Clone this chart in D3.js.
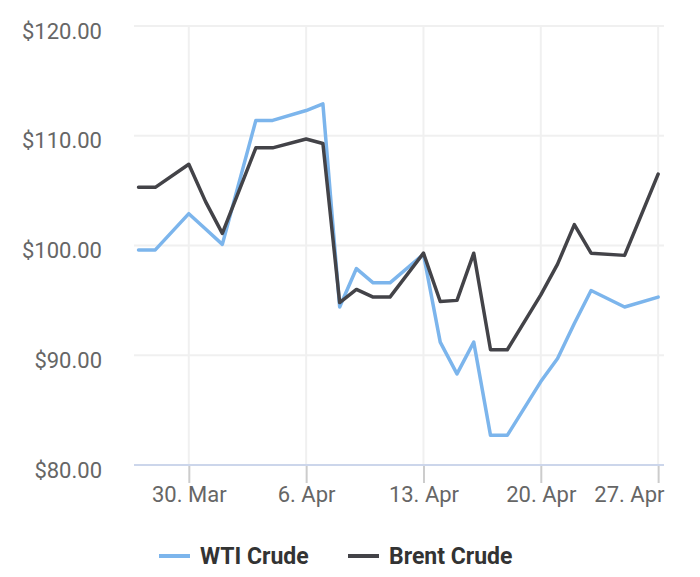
<!DOCTYPE html>
<html>
<head>
<meta charset="utf-8">
<script src="https://cdn.jsdelivr.net/npm/d3@7"></script>
<style>
  body { margin: 0; background: #fff; }
  svg { display: block; font-family: Roboto, "Noto Sans", sans-serif; }
</style>
</head>
<body>
<div id="chart"></div>
<script>
// data
const dates = ['2022-03-27', '2022-03-28', '2022-03-30', '2022-03-31', '2022-04-01',
  '2022-04-03', '2022-04-04', '2022-04-06', '2022-04-07', '2022-04-08',
  '2022-04-09', '2022-04-10', '2022-04-11', '2022-04-13', '2022-04-14',
  '2022-04-15', '2022-04-16', '2022-04-17', '2022-04-18', '2022-04-20',
  '2022-04-21', '2022-04-22', '2022-04-23', '2022-04-25', '2022-04-27']
const wti = [99.6, 99.6, 102.9, 101.5, 100.1,
  111.4, 111.4, 112.3, 112.9, 94.4,
  97.9, 96.6, 96.6, 99.2, 91.2,
  88.3, 91.2, 82.7, 82.7, 87.6,
  89.7, 92.9, 95.9, 94.4, 95.3]
const brent = [105.3, 105.3, 107.4, 104.0, 101.1,
  108.9, 108.9, 109.7, 109.3, 94.8,
  96.0, 95.3, 95.3, 99.3, 94.9,
  95.0, 99.3, 90.5, 90.5, 95.5,
  98.3, 101.9, 99.3, 99.1, 106.5]
const seriesNames = ['WTI Crude', 'Brent Crude']
const seriesColors = ['#7cb5ec', '#434348']
const xTickDates = ['2022-03-30', '2022-04-06', '2022-04-13', '2022-04-20', '2022-04-27']
const yTicks = [80, 90, 100, 110, 120]

const width = 700
const height = 577
const margin = { top: 26, right: 36, bottom: 112, left: 134 }

const parse = d3.utcParse('%Y-%m-%d')
const day = 24 * 3600 * 1000
const first = parse(dates[0])
const last = parse(dates[dates.length - 1])

const svg = d3.select('#chart').append('svg')
    .attr('width', width)
    .attr('height', height)

const x = d3.scaleUtc()
    .domain([new Date(+first - 0.27 * day), new Date(+last + 0.35 * day)])
    .range([margin.left, width - margin.right])

const y = d3.scaleLinear()
    .domain([80, 120])
    .range([height - margin.bottom, margin.top])

// horizontal grid
svg.append('g')
    .selectAll('line')
    .data(yTicks.slice(1))
    .enter().append('line')
    .attr('x1', margin.left)
    .attr('x2', width - margin.right)
    .attr('y1', d => y(d))
    .attr('y2', d => y(d))
    .attr('stroke', '#f0f0f0')
    .attr('stroke-width', 2)

// vertical grid
svg.append('g')
    .selectAll('line')
    .data(xTickDates.map(parse))
    .enter().append('line')
    .attr('x1', d => x(d))
    .attr('x2', d => x(d))
    .attr('y1', margin.top)
    .attr('y2', height - margin.bottom)
    .attr('stroke', '#f0f0f0')
    .attr('stroke-width', 2)

// y labels
svg.append('g')
    .selectAll('text')
    .data(yTicks)
    .enter().append('text')
    .attr('x', 102)
    .attr('y', d => y(d) + 12.5)
    .attr('text-anchor', 'end')
    .attr('fill', '#666')
    .style('font-size', '22px')
    .text(d => '$' + d.toFixed(2))

// x axis
const xAxis = d3.axisBottom(x)
    .tickValues(xTickDates.map(parse))
    .tickFormat(d3.utcFormat('%-d. %b'))
    .tickSize(18)
    .tickPadding(3)

const gx = svg.append('g')
    .attr('transform', 'translate(0,' + (height - margin.bottom) + ')')
    .call(xAxis)
gx.select('.domain').remove()
gx.selectAll('.tick line').attr('stroke', '#ccc').attr('stroke-width', 2)
gx.selectAll('.tick text')
    .attr('fill', '#666')
    .style('font-size', '22px')
    .style('font-family', 'Roboto, sans-serif')

// last label is pushed inside the chart edge
gx.selectAll('.tick text')
    .filter((d, i, n) => i === n.length - 1)
    .attr('text-anchor', 'end')
    .attr('x', (width - margin.right) - x(parse(xTickDates[xTickDates.length - 1])))

svg.append('line')
    .attr('x1', margin.left)
    .attr('x2', width - margin.right)
    .attr('y1', height - margin.bottom)
    .attr('y2', height - margin.bottom)
    .attr('stroke', '#ccd6eb')
    .attr('stroke-width', 2)

// lines
const line = d3.line()
    .x((d, i) => x(parse(dates[i])))
    .y(d => y(d))

const allSeries = [wti, brent]
allSeries.forEach((values, i) => {
    svg.append('path')
        .datum(values)
        .attr('d', line)
        .attr('fill', 'none')
        .attr('stroke', seriesColors[i])
        .attr('stroke-width', 3.5)
        .attr('stroke-linejoin', 'round')
        .attr('stroke-linecap', 'round')
})

// legend
const legendX = [159, 348]
const legend = svg.append('g')
seriesNames.forEach((name, i) => {
    legend.append('line')
        .attr('x1', legendX[i])
        .attr('x2', legendX[i] + 31)
        .attr('y1', 556)
        .attr('y2', 556)
        .attr('stroke', seriesColors[i])
        .attr('stroke-width', 4)
    legend.append('text')
        .attr('x', legendX[i] + 41)
        .attr('y', 564)
        .attr('fill', '#333')
        .style('font-size', '23px')
        .style('font-weight', 'bold')
        .text(name)
})
</script>
</body>
</html>
